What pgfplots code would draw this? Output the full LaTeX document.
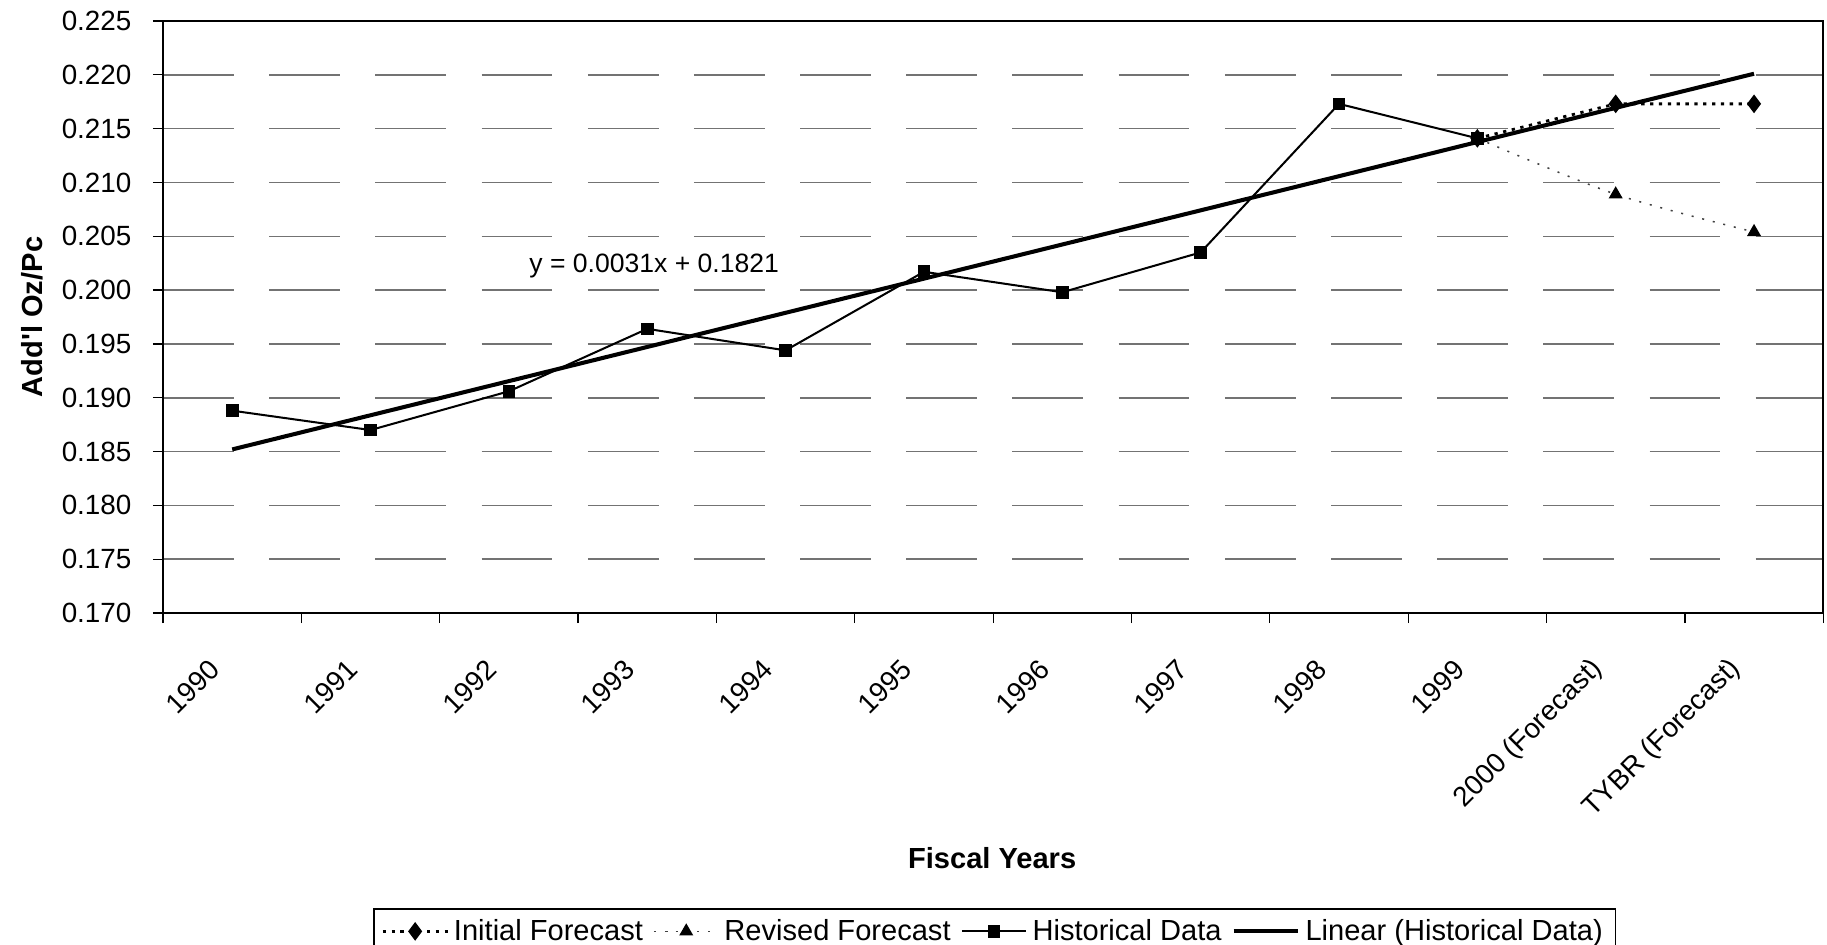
\documentclass[border=0pt]{standalone}
\usepackage{pgfplots}
\pgfplotsset{compat=1.18}
\usepackage{pgfplotstable}
\usepackage{fontspec}
\setmainfont{Liberation Sans}

\pgfplotstableread{
x y
0 0.1888
1 0.1870
2 0.1906
3 0.1964
4 0.1944
5 0.2017
6 0.1998
7 0.2035
8 0.2173
9 0.2141
}\hist

\pgfplotstableread{
x y
9 0.2141
10 0.2173
11 0.2173
}\initial

\pgfplotstableread{
x y
9 0.2141
10 0.2089
11 0.2054
}\revised

\pgfplotstableread{
x y
0 0.1852
11 0.2201
}\trend

\begin{document}
\begin{tikzpicture}
\begin{axis}[
  at={(0,0)}, anchor=south west,
  scale only axis, width=656.7pt, height=234.2pt,
  xmin=-0.5, xmax=11.5, ymin=0.170, ymax=0.225,
  axis line style={black, line width=0.8pt},
  xtick={0,1,2,3,4,5,6,7,8,9,10,11},
  xticklabels={1990,1991,1992,1993,1994,1995,1996,1997,1998,1999,2000 (Forecast),TYBR (Forecast)},
  minor xtick={-0.5,0.5,1.5,2.5,3.5,4.5,5.5,6.5,7.5,8.5,9.5,10.5,11.5},
  major x tick style={draw=none},
  minor x tick style={black, line width=0.5pt},
  minor tick length=4pt,
  ytick={0.170,0.175,0.180,0.185,0.190,0.195,0.200,0.205,0.210,0.215,0.220,0.225},
  major y tick style={black, line width=0.5pt},
  major tick length=4pt,
  tick align=outside,
  xtick pos=bottom, ytick pos=left,
  ymajorgrids,
  major grid style={black!55, line width=0.6pt, dash pattern=on 28pt off 14pt},
  /pgf/number format/assume math mode=true,
  yticklabel style={/pgf/number format/fixed, /pgf/number format/fixed zerofill, /pgf/number format/precision=3, font=\fontsize{11}{13}\selectfont, xshift=-5pt},
  xticklabel style={xshift=-4.5pt, rotate=45, anchor=east, font=\fontsize{11}{13}\selectfont},
  xticklabel shift=14pt,
  xlabel={Fiscal Years},
  xlabel style={at={(axis description cs:0.4994,-0.4139)}, anchor=center, font=\bfseries\fontsize{11.5}{13}\selectfont},
  ylabel={Add\textquotesingle l Oz/Pc},
  ylabel style={at={(axis description cs:-0.0789,0.5)}, anchor=center, font=\bfseries\fontsize{11.5}{13}\selectfont},
  legend columns=4,
  legend style={at={(axis description cs:0.1265,-0.4983)}, anchor=north west, draw=black, line width=0.6pt, fill=none,
    font=\fontsize{11.5}{13}\selectfont, /tikz/every even column/.append style={column sep=2pt}},
  legend image code/.code={\draw[mark repeat=2,mark phase=2,#1] plot coordinates {(0cm,0cm) (0.45cm,0cm) (0.9cm,0cm)};},
]
\addplot[black, line width=1.1pt, dash pattern=on 1.3pt off 2.2pt, mark=diamond*, mark size=2.8pt, mark options={solid, fill=black}] table[x=x,y=y] {\initial};
\addlegendentry{Initial Forecast}
\addplot[black!75, line width=0.6pt, dash pattern=on 0.8pt off 3.5pt, smooth, mark=triangle*, mark size=2.6pt, mark options={solid, fill=black, draw=black}] table[x=x,y=y] {\revised};
\addlegendentry{Revised Forecast}
\addplot[black, line width=0.8pt, mark=square*, mark size=2.1pt, mark options={solid, fill=black}] table[x=x,y=y] {\hist};
\addlegendentry{Historical Data}
\addplot[black, line width=1.6pt] table[x=x,y=y] {\trend};
\addlegendentry{Linear (Historical Data)}
\node[font=\fontsize{10.5}{12}\selectfont] at (axis cs:3.05,0.2022) {y = 0.0031x + 0.1821};
\end{axis}
\pgfresetboundingbox
\useasboundingbox (-64.5pt,-131.3pt) rectangle (658.2pt,242.5pt);
\end{tikzpicture}
\end{document}
